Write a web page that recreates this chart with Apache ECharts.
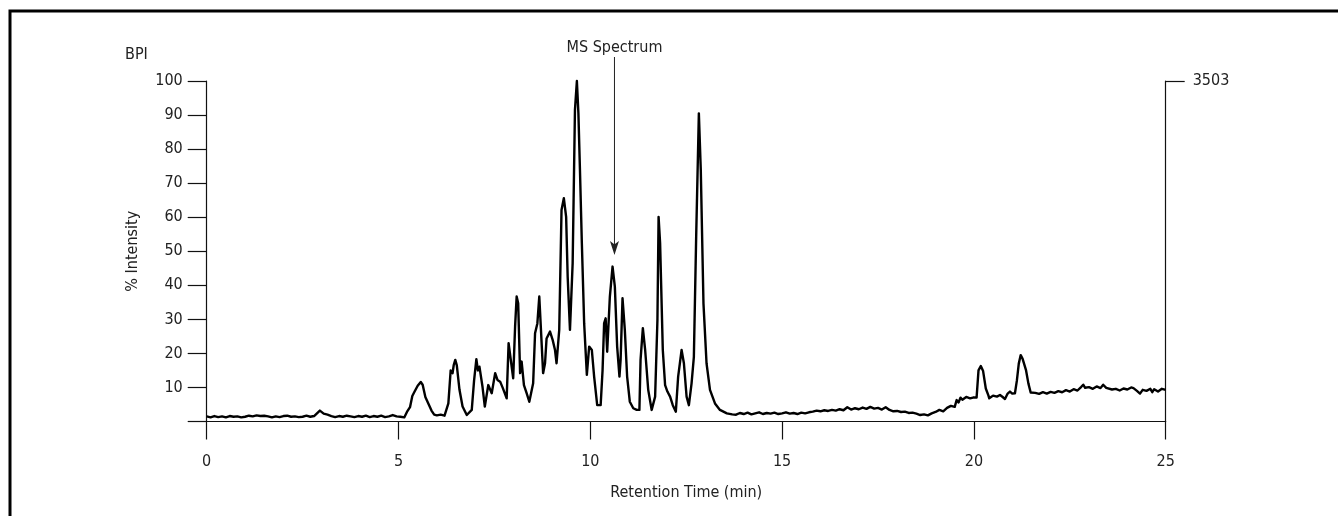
<!DOCTYPE html>
<html>
<head>
<meta charset="utf-8">
<script src="https://cdn.jsdelivr.net/npm/echarts@6/dist/echarts.min.js"></script>
<style>
html,body{margin:0;padding:0;background:#fff;}
#chart{width:1338px;height:516px;}
</style>
</head>
<body>
<div id="chart"></div>
<script>
// Retention time (min)
const retentionTime = [
0.0,0.1,0.2,0.3,0.4,0.5,0.6,0.7,0.8,0.9,1.0,1.1,1.2,1.3,1.4,1.5,1.6,1.7,1.8,1.9,
2.0,2.1,2.2,2.3,2.4,2.5,2.6,2.7,2.8,2.85,2.95,3.05,3.15,3.25,3.35,3.45,3.55,3.65,3.75,3.85,
3.95,4.05,4.15,4.25,4.35,4.45,4.55,4.65,4.75,4.85,4.95,5.05,5.15,5.22,5.3,5.36,5.42,5.5,5.58,5.63,
5.7,5.78,5.86,5.93,6.0,6.1,6.2,6.3,6.36,6.41,6.44,6.48,6.52,6.59,6.67,6.78,6.91,6.97,7.03,7.07,
7.11,7.19,7.25,7.34,7.43,7.47,7.52,7.58,7.65,7.72,7.77,7.82,7.87,7.92,7.99,8.04,8.08,8.12,8.17,8.21,
8.27,8.34,8.41,8.51,8.56,8.62,8.67,8.71,8.77,8.82,8.86,8.95,9.02,9.08,9.12,9.19,9.25,9.31,9.37,9.41,
9.47,9.54,9.6,9.65,9.69,9.73,9.78,9.84,9.91,9.97,10.04,10.1,10.18,10.27,10.32,10.36,10.4,10.44,10.51,10.58,
10.64,10.7,10.76,10.79,10.84,10.9,10.96,11.03,11.12,11.21,11.28,11.31,11.37,11.43,11.51,11.6,11.69,11.75,11.78,11.82,
11.89,11.95,12.01,12.08,12.15,12.23,12.29,12.38,12.44,12.51,12.57,12.64,12.7,12.76,12.83,12.88,12.95,13.03,13.12,13.25,
13.38,13.56,13.7,13.8,13.9,14.0,14.1,14.2,14.3,14.4,14.5,14.6,14.7,14.8,14.9,15.0,15.1,15.2,15.3,15.4,
15.5,15.6,15.7,15.8,15.9,16.0,16.1,16.2,16.3,16.4,16.5,16.6,16.7,16.8,16.9,17.0,17.1,17.2,17.3,17.4,
17.5,17.6,17.7,17.8,17.9,18.0,18.1,18.2,18.3,18.4,18.5,18.6,18.7,18.8,18.9,19.0,19.1,19.2,19.3,19.4,
19.5,19.55,19.6,19.65,19.7,19.8,19.9,20.0,20.07,20.12,20.18,20.24,20.31,20.38,20.4,20.5,20.6,20.68,20.75,20.81,
20.88,20.94,21.0,21.07,21.12,21.17,21.22,21.27,21.31,21.36,21.42,21.48,21.53,21.6,21.7,21.8,21.9,22.0,22.1,22.2,
22.3,22.4,22.5,22.6,22.7,22.8,22.85,22.9,23.0,23.1,23.2,23.3,23.37,23.45,23.5,23.6,23.7,23.8,23.9,24.0,
24.1,24.16,24.25,24.33,24.4,24.5,24.6,24.65,24.7,24.8,24.9,25.0
];
// % Intensity (BPI)
const intensity = [
1.5,1.2,1.6,1.3,1.5,1.2,1.6,1.4,1.5,1.2,1.4,1.7,1.5,1.8,1.6,1.7,1.5,1.2,1.5,1.3,
1.6,1.7,1.4,1.5,1.3,1.4,1.7,1.4,1.6,1.3,3.2,2.3,2.0,1.6,1.3,1.6,1.4,1.7,1.5,1.3,
1.6,1.4,1.7,1.3,1.6,1.4,1.7,1.3,1.5,1.9,1.5,1.4,1.2,2.8,4.2,7.5,8.8,10.5,11.6,10.8,
7.2,5.2,3.2,2.0,1.8,2.0,1.7,5.3,15.0,14.2,16.6,18.1,16.5,9.3,4.4,1.9,3.4,12.0,18.3,15.0,
16.1,10.2,4.4,10.7,8.3,8.8,14.2,12.2,11.7,9.8,9.3,6.8,23.0,22.5,12.7,28.0,36.7,34.7,14.2,17.6,
10.7,8.3,5.8,11.2,25.9,28.8,36.7,27.8,14.2,17.1,24.4,26.4,23.9,21.0,17.1,26.9,62.1,65.6,60.1,42.5,
26.9,46.5,91.5,100,90.5,74.0,52.3,28.8,13.7,22.0,21.0,13.2,4.8,4.8,15.1,28.8,30.3,20.5,36.7,45.5,
39.6,22.0,13.2,18.1,36.2,26.9,13.2,5.8,3.9,3.4,3.4,18.1,27.4,21.0,9.3,3.4,7.3,29.8,60.1,52.3,
21.0,10.7,8.8,7.3,4.8,2.9,13.2,21.0,17.1,7.3,4.8,11.2,19.0,54.3,90.5,74.0,34.7,17.1,9.3,5.3,
3.4,2.4,2.1,2.0,2.5,2.2,2.6,2.1,2.4,2.7,2.2,2.5,2.3,2.6,2.2,2.4,2.7,2.3,2.5,2.2,
2.6,2.4,2.7,2.9,3.2,3.0,3.3,3.1,3.4,3.2,3.6,3.3,4.2,3.5,3.9,3.6,4.1,3.7,4.3,3.8,
4.0,3.5,4.2,3.4,3.0,3.1,2.8,2.9,2.5,2.6,2.3,1.9,2.1,1.8,2.4,2.8,3.4,3.0,4.0,4.6,
4.3,6.3,5.6,7.0,6.4,7.2,6.8,7.1,7.0,15.0,16.3,14.8,9.7,7.6,6.8,7.6,7.3,7.8,7.2,6.6,
8.2,8.8,8.2,8.3,12.0,17.0,19.5,18.4,18.6,15.0,11.2,8.5,8.0,8.4,8.1,8.6,8.2,8.7,8.4,8.9,
8.6,9.2,8.8,9.5,9.1,10.2,10.8,9.9,10.1,9.6,10.3,9.8,10.8,9.9,10.2,9.4,9.6,9.1,9.7,9.4,
10.0,9.8,9.0,8.2,9.3,9.0,9.6,8.6,9.5,8.8,9.6,9.3
];
const xTickLabels = ['0','5','10','15','20','25'];
const yTickLabels = ['10','20','30','40','50','60','70','80','90','100'];
const maxCounts = '3503';
const annotationTime = 10.63;
const annotationTip = 48.9;
const annotationText = 'MS Spectrum';

const FONT = "'Liberation Sans Narrow','DejaVu Sans Condensed','Roboto Condensed','Liberation Sans',sans-serif";
const TXT = '#222';
const AX = '#111';

const seriesData = retentionTime.map((t, i) => [t, intensity[i]]);

// long thin arrow with a notched head: 9 units wide, 198 units tall, stem 1 unit wide
const ARROW_PATH = 'path://M4,0 L5,0 L5,187 L9,184 L4.5,198 L0,184 L4,187 Z';

const chart = echarts.init(document.getElementById('chart'), null, {renderer: 'canvas'});
chart.setOption({
  animation: false,
  backgroundColor: '#fff',
  title: {
    text: 'BPI', left: 120, top: 42,
    textStyle: {fontFamily: FONT, fontSize: 16, fontWeight: 'normal', color: TXT}
  },
  graphic: [{
    type: 'rect', silent: true,
    shape: {x: 10, y: 11, width: 2000, height: 2000},
    style: {fill: 'none', stroke: '#000', lineWidth: 3}
  }],
  grid: {left: 206.7, right: 172.3, top: 81, bottom: 94.5, containLabel: false},
  xAxis: {
    type: 'value', min: 0, max: 25, interval: 5,
    name: 'Retention Time (min)', nameLocation: 'middle', nameGap: 63,
    nameTextStyle: {fontFamily: FONT, fontSize: 16, color: TXT},
    axisLine: {show: true, onZero: false, lineStyle: {color: AX, width: 1.2}},
    axisTick: {show: true, inside: false, length: 18, lineStyle: {color: AX, width: 1.2}},
    axisLabel: {margin: 32, fontFamily: FONT, fontSize: 16, color: TXT,
      formatter: v => xTickLabels[Math.round(v / 5)]},
    splitLine: {show: false}
  },
  yAxis: [{
    type: 'value', min: 0, max: 100, interval: 10, position: 'left',
    name: '% Intensity', nameLocation: 'middle', nameGap: 66, nameRotate: 90,
    nameTextStyle: {fontFamily: FONT, fontSize: 16, color: TXT},
    axisLine: {show: true, lineStyle: {color: AX, width: 1.2}},
    axisTick: {show: true, inside: false, length: 19, lineStyle: {color: AX, width: 1.2}},
    axisLabel: {margin: 24, fontFamily: FONT, fontSize: 16, color: TXT,
      formatter: v => v === 0 ? '' : yTickLabels[Math.round(v / 10) - 1]},
    splitLine: {show: false}
  }, {
    type: 'value', min: 0, max: 100, position: 'right',
    axisLine: {show: true, lineStyle: {color: AX, width: 1.2}},
    axisTick: {show: true, inside: false, length: 19, customValues: [100], lineStyle: {color: AX, width: 1.2}},
    axisLabel: {show: true, margin: 27, customValues: [100], fontFamily: FONT, fontSize: 16, color: TXT,
      formatter: () => maxCounts},
    splitLine: {show: false}
  }],
  series: [{
    type: 'line',
    data: seriesData,
    showSymbol: false,
    symbol: 'none',
    clip: false,
    lineStyle: {color: '#000', width: 2.4, join: 'round'},
    markPoint: {
      silent: true,
      symbol: ARROW_PATH,
      symbolSize: [9, 198],
      symbolKeepAspect: false,
      symbolOffset: [0, -99],
      itemStyle: {color: '#222', borderWidth: 0},
      label: {show: true, position: 'top', distance: 1, formatter: annotationText,
        fontFamily: FONT, fontSize: 16, color: TXT},
      data: [{coord: [annotationTime, annotationTip]}]
    }
  }]
});
</script>
</body>
</html>
